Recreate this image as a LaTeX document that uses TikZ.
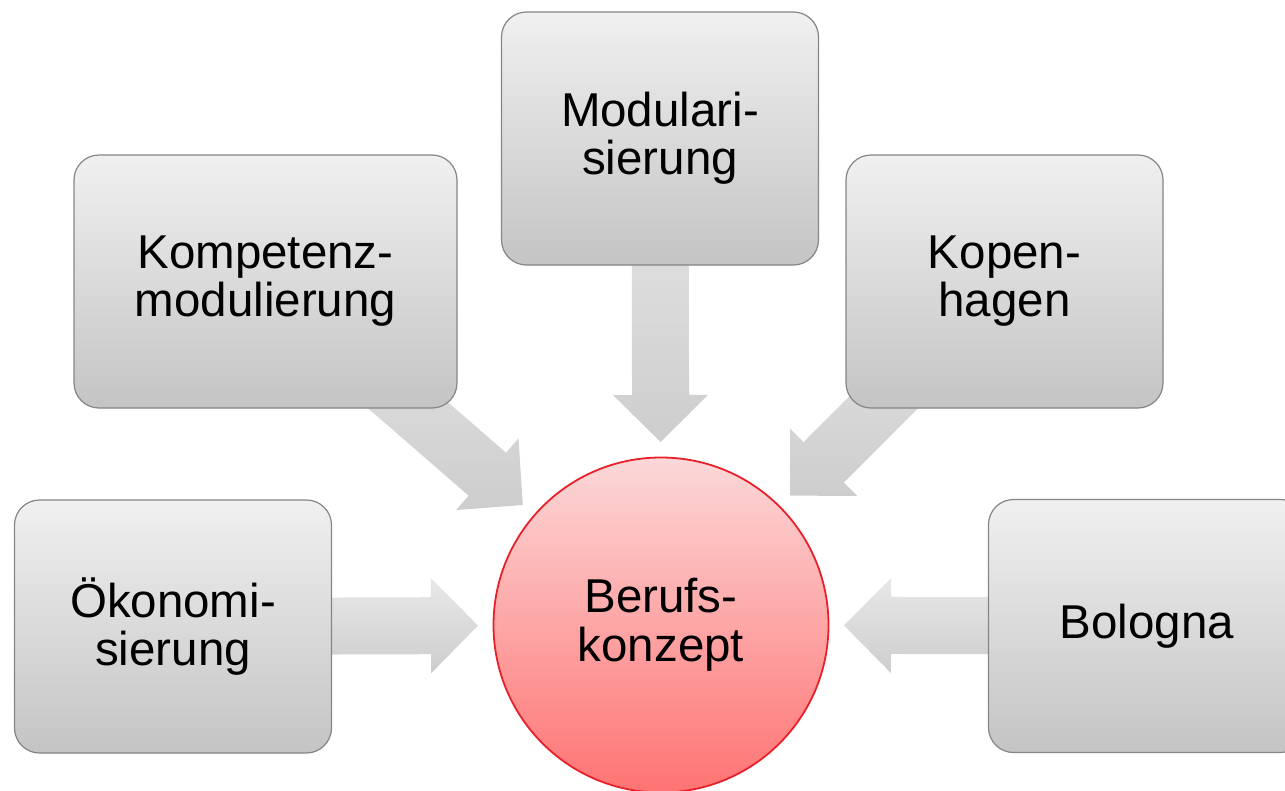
\documentclass[tikz,border=0pt]{standalone}
\usepackage{fontspec}
\setmainfont{Liberation Sans}
\usetikzlibrary{calc,backgrounds}
\definecolor{boxtop}{HTML}{F0F0F0}
\definecolor{boxbot}{HTML}{C4C4C4}
\definecolor{boxline}{HTML}{858585}
\definecolor{arrtop}{HTML}{E8E8E8}
\definecolor{arrbot}{HTML}{CDCDCD}
\definecolor{circtop}{HTML}{FCD8D8}
\definecolor{circbot}{HTML}{FF7373}
\definecolor{circline}{HTML}{E8202A}
\tikzset{
  box/.style={rectangle, rounded corners=25pt, draw=boxline, line width=1.2pt,
    top color=boxtop, bottom color=boxbot, align=center,
    minimum width=317pt, minimum height=253pt, inner sep=0pt,
    font=\fontsize{47.5}{48}\selectfont},
  hub/.style={circle, draw=circline, line width=1.8pt,
    top color=circtop, bottom color=circbot, align=center,
    minimum size=335pt, inner sep=0pt,
    font=\fontsize{47.5}{49}\selectfont},
  arrowfill/.style={top color=arrtop, bottom color=arrbot, draw=none}
}
\newcommand\blockarrow[2]{%
  \coordinate (#1h) at ($(#2)!230pt!(#1.center)$);
  \coordinate (#1t) at ($(#2)!183pt!(#1.center)$);
  \path[arrowfill] ($(#1.center)!28.5pt!90:(#2)$) -- ($(#1h)!28.5pt!90:(#2)$)
    -- ($(#1h)!47.5pt!90:(#2)$) -- (#1t) -- ($(#1h)!47.5pt!-90:(#2)$)
    -- ($(#1h)!28.5pt!-90:(#2)$) -- ($(#1.center)!28.5pt!-90:(#2)$) -- cycle;
}
\begin{document}
\begin{tikzpicture}[x=1pt,y=-1pt]
\path[use as bounding box, clip] (0,0) rectangle (1285,790);
\node[hub] (ctr) at (661,625) {Berufs-\\konzept};
\node[box] (mod) at (660,138.5) {Modulari-\\sierung};
\node[box, minimum width=383pt] (komp) at (265.5,281.5) {Kompetenz-\\modulierung};
\node[box] (kop) at (1004.5,281.5) {Kopen-\\hagen};
\node[box] (oek) at (173,626.5) {Ökonomi-\\sierung};
\node[box] (bol) at (1147,626) {Bologna};
\begin{scope}[on background layer]
  \blockarrow{mod}{ctr}
  \blockarrow{komp}{ctr}
  \blockarrow{kop}{ctr}
  \blockarrow{oek}{ctr}
  \blockarrow{bol}{ctr}
\end{scope}
\end{tikzpicture}
\end{document}
